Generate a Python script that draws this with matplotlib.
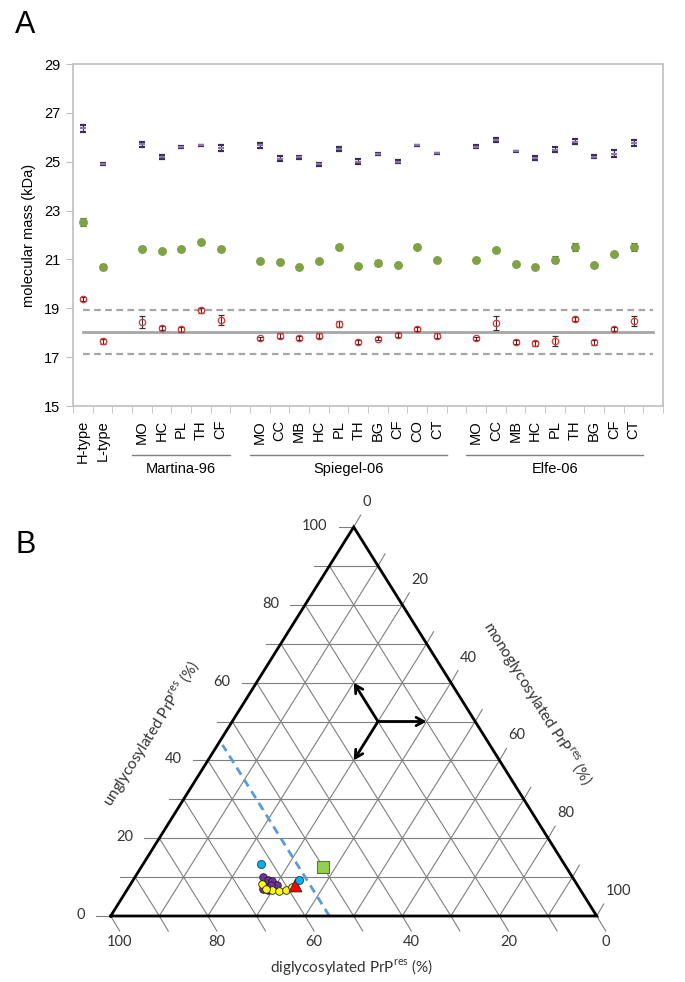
import numpy as np
import matplotlib
matplotlib.use("Agg")
import matplotlib.pyplot as plt

plt.rcParams['font.family'] = ['Liberation Sans', 'DejaVu Sans']
plt.rcParams['mathtext.fontset'] = 'custom'
plt.rcParams['mathtext.rm'] = 'Lato'

# ---------------- Panel A data ----------------
ref_labels = ["H-type", "L-type"]
martina_labels = ["MO", "HC", "PL", "TH", "CF"]
spiegel_labels = ["MO", "CC", "MB", "HC", "PL", "TH", "BG", "CF", "CO", "CT"]
elfe_labels = ["MO", "CC", "MB", "HC", "PL", "TH", "BG", "CF", "CT"]
group_names = ["Martina-96", "Spiegel-06", "Elfe-06"]

top_band = [26.37, 24.91,
            25.71, 25.18, 25.60, 25.67, 25.55,
            25.67, 25.13, 25.18, 24.89, 25.52, 25.00, 25.32, 25.00, 25.67, 25.34,
            25.62, 25.88, 25.43, 25.17, 25.50, 25.82, 25.21, 25.33, 25.75]
top_err = [0.15, 0.05,
           0.10, 0.08, 0.05, 0.03, 0.12,
           0.10, 0.10, 0.05, 0.05, 0.08, 0.10, 0.05, 0.05, 0.03, 0.02,
           0.07, 0.08, 0.02, 0.08, 0.12, 0.10, 0.05, 0.15, 0.12]
mid_band = [22.53, 20.70,
            21.43, 21.35, 21.44, 21.73, 21.43,
            20.95, 20.90, 20.70, 20.92, 21.50, 20.73, 20.87, 20.76, 21.50, 20.96,
            20.96, 21.40, 20.81, 20.69, 20.99, 21.51, 20.76, 21.22, 21.51]
mid_err = [0.18, 0.12,
           0.10, 0.05, 0.08, 0.05, 0.08,
           0.04, 0.08, 0.05, 0.04, 0.04, 0.08, 0.12, 0.05, 0.04, 0.04,
           0.04, 0.05, 0.05, 0.05, 0.15, 0.15, 0.05, 0.05, 0.15]
low_band = [19.37, 17.65,
            18.44, 18.18, 18.14, 18.92, 18.52,
            17.77, 17.87, 17.80, 17.88, 18.37, 17.62, 17.76, 17.90, 18.15, 17.87,
            17.77, 18.40, 17.63, 17.57, 17.67, 18.56, 17.60, 18.15, 18.49]
low_err = [0.08, 0.10,
           0.25, 0.08, 0.10, 0.10, 0.20,
           0.05, 0.10, 0.08, 0.10, 0.12, 0.08, 0.05, 0.08, 0.10, 0.10,
           0.05, 0.30, 0.08, 0.10, 0.20, 0.10, 0.10, 0.10, 0.20]
mean_line = 18.02
upper_line = 18.93
lower_line = 17.11
y_ticks = [15, 17, 19, 21, 23, 25, 27, 29]

# ---------------- Panel B data (di, mono, un) in % ----------------
purple_di = [63.7, 63.1, 62.3, 61.9, 64.5, 64.2, 65.1, 63.0]
purple_mono = [26.4, 27.7, 28.8, 30.2, 28.0, 29.1, 27.9, 29.0]
purple_un = [9.9, 9.2, 8.9, 7.9, 7.5, 6.7, 7.0, 8.0]
yellow_di = [64.8, 63.5, 62.1, 60.6, 59.0, 64.6]
yellow_mono = [27.0, 29.8, 31.4, 32.7, 33.5, 28.5]
yellow_un = [8.2, 6.7, 6.5, 6.7, 7.5, 6.9]
blue_di = [62.4, 56.6]
blue_mono = [24.2, 34.2]
blue_un = [13.4, 9.2]
green_di = [50.0]
green_mono = [37.3]
green_un = [12.7]
red_di = [58.0]
red_mono = [34.0]
red_un = [8.0]
threshold_di = 55.0
threshold_un_max = 44.0
arrow_center = (20, 30, 50)
arrow_ends = [(10, 40, 50), (20, 20, 60), (30, 30, 40)]

fig = plt.figure(figsize=(6.85, 9.82), dpi=100)
W, Hpx = 685, 982

# ---------------- Panel A ----------------
axA = fig.add_axes([73 / W, 1 - 406 / Hpx, 590 / W, 342 / Hpx])
positions = []
labels = []
pos = 0
for lab in ref_labels:
    positions.append(pos); labels.append(lab); pos += 1
group_spans = []
for grp in [martina_labels, spiegel_labels, elfe_labels]:
    pos += 1
    start = pos
    for lab in grp:
        positions.append(pos); labels.append(lab); pos += 1
    group_spans.append((start - 0.5, pos - 0.5))
n_slots = pos + 1
positions = np.array(positions)

axA.errorbar(positions, top_band, yerr=top_err, fmt='_', color='#8a74b4', ms=5, mew=1.6,
             ecolor='#3a2d50', elinewidth=0.8, capsize=2.2, capthick=0.8, zorder=3)
axA.errorbar(positions, mid_band, yerr=mid_err, fmt='o', color='#7ea346', ms=5.4,
             mec='#7ea346', ecolor='#3a4a20', elinewidth=0.8, capsize=2.2, capthick=0.8, zorder=3)
axA.errorbar(positions, low_band, yerr=low_err, fmt='o', mfc='none', mec='#e03535', ms=4.6,
             mew=0.9, ecolor='#333333', elinewidth=0.8, capsize=2.2, capthick=0.8, zorder=3)

x0, x1 = positions[0], n_slots - 1
axA.plot([x0, x1], [mean_line, mean_line], color='#a6a6a6', lw=2, zorder=1)
axA.plot([x0, x1], [upper_line, upper_line], color='#a6a6a6', lw=1.6, ls=(0, (3, 2)), zorder=1)
axA.plot([x0, x1], [lower_line, lower_line], color='#a6a6a6', lw=1.6, ls=(0, (3, 2)), zorder=1)

axA.set_xlim(-0.5, n_slots - 0.5)
axA.set_ylim(15, 29)
axA.set_yticks(y_ticks)
axA.set_yticklabels([str(v) for v in y_ticks], fontsize=10.5)
axA.set_xticks(positions)
axA.set_xticklabels(labels, rotation=90, fontsize=10.5)
axA.set_xticks(np.arange(-0.5, n_slots, 1.0), minor=True)
axA.tick_params(axis='x', which='major', length=0, pad=10)
axA.tick_params(axis='x', which='minor', length=5, color='#bfbfbf', direction='out')
axA.tick_params(axis='y', length=5, color='#bfbfbf', direction='out', pad=4)
for sp in axA.spines.values():
    sp.set_color('#bfbfbf')
    sp.set_linewidth(1.2)
axA.set_ylabel('molecular mass (kDa)', fontsize=10.5, labelpad=6)

for (a, b), name in zip(group_spans, group_names):
    axA.plot([a, b], [-0.143, -0.143], transform=axA.get_xaxis_transform(), color='#808080',
             lw=1, clip_on=False)
    axA.text((a + b) / 2, -0.183, name, transform=axA.get_xaxis_transform(), ha='center',
             va='center', fontsize=10.5)

fig.text(15 / W, 1 - 25 / Hpx, 'A', fontsize=22, va='center', ha='left')
fig.text(15 / W, 1 - 545 / Hpx, 'B', fontsize=22, va='center', ha='left')

# ---------------- Panel B (ternary) ----------------
H = np.sqrt(3) / 2
axB = fig.add_axes([110.7 / W, 1 - 916 / Hpx, 486 / W, 389 / Hpx])
axB.set_xlim(0, 1)
axB.set_ylim(0, H)
axB.axis('off')
px_x = 1 / 486
px_y = H / 389


def tern(di, mono, un):
    di = np.asarray(di, float); mono = np.asarray(mono, float); un = np.asarray(un, float)
    s = di + mono + un
    m = mono / s
    u = un / s
    return m + u / 2, u * H


grid_kw = dict(color='#7f7f7f', lw=0.8, clip_on=False, zorder=1)
for k in range(10, 100, 10):
    xa, ya = tern(100 - k, 0, k); xb, yb = tern(0, 100 - k, k)
    axB.plot([xa, xb], [ya, yb], **grid_kw)
    xa, ya = tern(k, 100 - k, 0); xb, yb = tern(k, 0, 100 - k)
    axB.plot([xa, xb], [ya, yb], **grid_kw)
    xa, ya = tern(100 - k, k, 0); xb, yb = tern(0, k, 100 - k)
    axB.plot([xa, xb], [ya, yb], **grid_kw)

for k in range(0, 101, 10):
    xa, ya = tern(100 - k, 0, k)
    axB.plot([xa - 15 * px_x, xa], [ya, ya], **grid_kw)
    xa, ya = tern(0, k, 100 - k)
    axB.plot([xa, xa + 7 * px_x], [ya, ya + 12 * px_y], **grid_kw)
    xa, ya = tern(k, 100 - k, 0)
    axB.plot([xa, xa + 9 * px_x], [ya, ya - 15 * px_y], **grid_kw)

lab_kw = dict(fontsize=10.5, family=['Lato', 'DejaVu Sans'], color='#333333', clip_on=False)
for k in range(0, 101, 20):
    xa, ya = tern(100 - k, 0, k)
    axB.text(xa - 26 * px_x, ya + 1 * px_y, str(k), ha='right', va='center', **lab_kw)
    xa, ya = tern(0, k, 100 - k)
    axB.text(xa + 9 * px_x, ya + 25 * px_y, str(k), ha='left', va='center', **lab_kw)
    xa, ya = tern(k, 100 - k, 0)
    axB.text(xa + 9 * px_x, ya - 26 * px_y, str(k), ha='center', va='center', **lab_kw)

cx, cy = tern([100, 0, 0, 100], [0, 100, 0, 0], [0, 0, 100, 0])
axB.plot(cx, cy, color='black', lw=2, clip_on=False, zorder=3, solid_joinstyle='miter')

tx, ty = tern([threshold_di, threshold_di], [100 - threshold_di, 100 - threshold_di - threshold_un_max],
              [0, threshold_un_max])
axB.plot(tx, ty, color='#5b9bd5', lw=2, ls=(0, (3, 2)), zorder=2, clip_on=False)

ax0, ay0 = tern(*arrow_center)
for end in arrow_ends:
    ex, ey = tern(*end)
    axB.annotate('', xy=(float(ex), float(ey)), xytext=(float(ax0), float(ay0)),
                 arrowprops=dict(arrowstyle='->,head_length=0.55,head_width=0.3', color='black',
                                 lw=2, shrinkA=0, shrinkB=0), zorder=4)


def scatter(di, mono, un, **kw):
    x, y = tern(di, mono, un)
    axB.scatter(x, y, clip_on=False, zorder=5, **kw)


scatter(purple_di, purple_mono, purple_un, s=30, c='#7030a0', edgecolors='#222222', linewidths=0.6)
scatter(yellow_di, yellow_mono, yellow_un, s=30, c='#ffff00', edgecolors='#222222', linewidths=0.6)
scatter(red_di, red_mono, red_un, s=85, marker='^', c='#ff0000', edgecolors='#222222', linewidths=0.6)
scatter(blue_di, blue_mono, blue_un, s=34, c='#00b0f0', edgecolors='#222222', linewidths=0.5)
scatter(green_di, green_mono, green_un, s=85, marker='s', c='#92d050', edgecolors='#5a7a30', linewidths=0.8)

title_kw = dict(fontsize=11, family=['Lato', 'DejaVu Sans'], color='#333333', clip_on=False)
axB.text(0.4965, -51 * px_y, r'diglycosylated PrP$^{\mathrm{res}}$ (%)', ha='center', va='center', **title_kw)
axB.text(40 * px_x, 183 * px_y, r'unglycosylated PrP$^{\mathrm{res}}$ (%)', ha='center', va='center',
         rotation=58, rotation_mode='anchor', **title_kw)
axB.text(426.8 * px_x, 213 * px_y, r'monoglycosylated PrP$^{\mathrm{res}}$ (%)', ha='center', va='center',
         rotation=-58, rotation_mode='anchor', **title_kw)

fig.savefig('out.png', dpi=100)
